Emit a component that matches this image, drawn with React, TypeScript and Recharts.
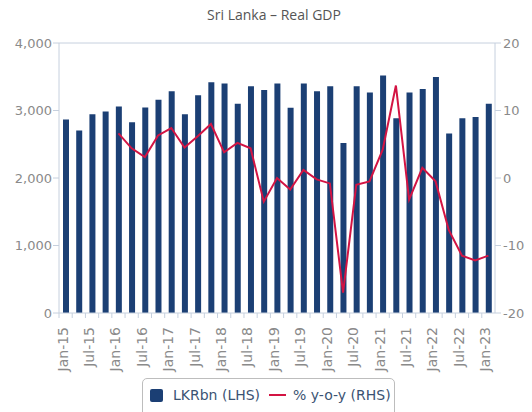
import {
  ComposedChart,
  Bar,
  Line,
  XAxis,
  YAxis,
  ReferenceLine,
  Legend,
} from "recharts";

const quarters = [
  "Jan-15", "Apr-15", "Jul-15", "Oct-15",
  "Jan-16", "Apr-16", "Jul-16", "Oct-16",
  "Jan-17", "Apr-17", "Jul-17", "Oct-17",
  "Jan-18", "Apr-18", "Jul-18", "Oct-18",
  "Jan-19", "Apr-19", "Jul-19", "Oct-19",
  "Jan-20", "Apr-20", "Jul-20", "Oct-20",
  "Jan-21", "Apr-21", "Jul-21", "Oct-21",
  "Jan-22", "Apr-22", "Jul-22", "Oct-22",
  "Jan-23",
];

// LKRbn, left axis
const gdpLkrBn = [
  2865, 2705, 2945, 2985,
  3060, 2825, 3045, 3160,
  3285, 2945, 3225, 3420,
  3400, 3100, 3360, 3305,
  3400, 3040, 3400, 3285,
  3360, 2520, 3360, 3265,
  3520, 2885, 3265, 3320,
  3495, 2660, 2885, 2905,
  3100,
];

// % y-o-y, right axis
const yoyPct: (number | null)[] = [
  null, null, null, null,
  6.6, 4.4, 3.1, 6.3,
  7.4, 4.5, 6.2, 8.0,
  3.8, 5.2, 4.4, -3.5,
  0.0, -1.7, 1.2, -0.2,
  -0.8, -17.0, -1.0, -0.5,
  4.2, 13.7, -3.2, 1.5,
  -0.5, -7.7, -11.5, -12.2,
  -11.5,
];

const lhsTicks = [0, 1000, 2000, 3000, 4000];
const rhsTicks = [-20, -10, 0, 10, 20];

const data = quarters.map((q, i) => ({ q, gdp: gdpLkrBn[i], yoy: yoyPct[i] }));

const W = 532;
const H = 412;
const LEFT_W = 59;
const RIGHT_W = 37;
const HALF_BAND = (W - LEFT_W - RIGHT_W) / quarters.length / 2;

const BAR = "#1b3f74";
const LINE = "#d31443";
const AXIS = "#c6d0de";
const TICK_TEXT = "#8a8a8a";
const FONT = "'DejaVu Sans', Verdana, sans-serif";

function QuarterTick(props: any) {
  const { x, y, payload, index } = props;
  return (
    <g>
      <line x1={x - HALF_BAND} x2={x - HALF_BAND} y1={y - 8} y2={y - 3} stroke={AXIS} />
      {index % 2 === 0 && (
        <text
          x={0}
          y={0}
          transform={`translate(${x - 3},${y + 6}) rotate(-90)`}
          textAnchor="end"
          dy="0.35em"
          fill={TICK_TEXT}
          fontSize={14}
          fontFamily={FONT}
        >
          {payload.value}
        </text>
      )}
    </g>
  );
}

function LegendBox() {
  return (
    <div
      style={{
        marginLeft: 142,
        width: 253,
        height: 40,
        border: "1px solid #bdbdbd",
        borderRadius: 5,
        display: "flex",
        alignItems: "center",
        paddingBottom: 6,
        boxSizing: "border-box",
        fontFamily: FONT,
        fontSize: 14,
        color: "#3b5373",
      }}
    >
      <span
        style={{
          display: "inline-block",
          width: 13,
          height: 13,
          background: BAR,
          borderRadius: 2,
          marginLeft: 7,
          marginRight: 10,
        }}
      />
      <span>LKRbn (LHS)</span>
      <span
        style={{
          display: "inline-block",
          width: 17,
          height: 2.5,
          background: LINE,
          marginLeft: 9,
          marginRight: 7,
        }}
      />
      <span>% y-o-y (RHS)</span>
    </div>
  );
}

export default function App() {
  return (
    <div
      style={{
        position: "absolute",
        left: 0,
        top: 0,
        width: W,
        height: H,
        overflow: "hidden",
        background: "#fff",
      }}
    >
      <div
        style={{
          position: "absolute",
          top: 5,
          left: 16,
          width: W - 16,
          textAlign: "center",
          fontFamily: "'Open Sans', sans-serif",
          fontSize: 14,
          color: "#555",
        }}
      >
        Sri Lanka – Real GDP
      </div>
      <ComposedChart
        width={W}
        height={H}
        data={data}
        margin={{ top: 43, right: 0, left: 0, bottom: 0 }}
      >
        <XAxis
          dataKey="q"
          interval={0}
          height={64}
          tick={<QuarterTick />}
          tickLine={false}
          axisLine={{ stroke: AXIS }}
        />
        <YAxis
          yAxisId="lhs"
          width={LEFT_W}
          domain={[0, 4000]}
          ticks={lhsTicks}
          tickFormatter={(v: number) => v.toLocaleString("en-US")}
          tick={{ fill: TICK_TEXT, fontSize: 13, fontFamily: FONT }}
          tickLine={{ stroke: AXIS }}
          tickSize={6}
          tickMargin={1}
          axisLine={{ stroke: AXIS }}
        />
        <YAxis
          yAxisId="rhs"
          orientation="right"
          width={RIGHT_W}
          domain={[-20, 20]}
          ticks={rhsTicks}
          tick={{ fill: TICK_TEXT, fontSize: 13, fontFamily: FONT }}
          tickLine={{ stroke: AXIS }}
          tickSize={6}
          tickMargin={2}
          axisLine={{ stroke: AXIS }}
        />
        <ReferenceLine yAxisId="lhs" y={4000} stroke={AXIS} />
        <Legend
          verticalAlign="bottom"
          height={35}
          wrapperStyle={{ left: 0, bottom: -1, width: W }}
          content={() => <LegendBox />}
        />
        <Bar
          yAxisId="lhs"
          dataKey="gdp"
          name="LKRbn (LHS)"
          fill={BAR}
          barSize={6}
          isAnimationActive={false}
        />
        <Line
          yAxisId="rhs"
          dataKey="yoy"
          name="% y-o-y (RHS)"
          type="linear"
          stroke={LINE}
          strokeWidth={2}
          dot={false}
          activeDot={false}
          connectNulls={false}
          isAnimationActive={false}
        />
      </ComposedChart>
    </div>
  );
}
